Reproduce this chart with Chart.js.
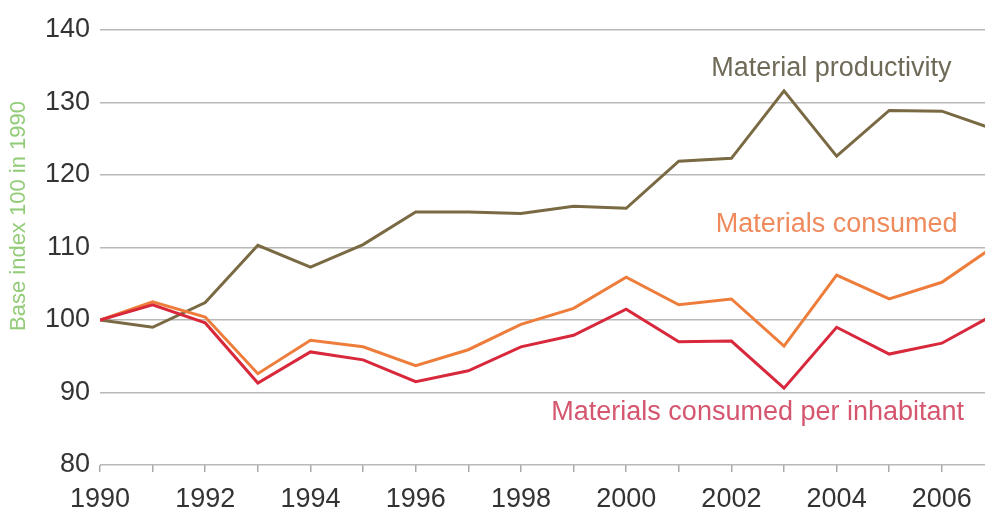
<!DOCTYPE html>
<html>
<head>
<meta charset="utf-8">
<script src="https://cdn.jsdelivr.net/npm/chart.js@4.4.1/dist/chart.umd.min.js"></script>
<style>
  html, body { margin: 0; padding: 0; background: #ffffff; overflow: hidden; }
  #wrap { width: 985px; height: 515px; }
</style>
</head>
<body>
<div id="wrap"><canvas id="c" width="985" height="515"></canvas></div>
<script>
// ---- data ----
const years = [1990,1991,1992,1993,1994,1995,1996,1997,1998,1999,2000,2001,2002,2003,2004,2005,2006,2007];
const materialProductivity = [100, 99.0, 102.4, 110.3, 107.3, 110.4, 114.9, 114.9, 114.7, 115.7, 115.4, 121.9, 122.3, 131.6, 122.6, 128.9, 128.8, 126.3];
const materialsConsumed = [100, 102.5, 100.4, 92.6, 97.2, 96.3, 93.7, 95.9, 99.4, 101.6, 105.9, 102.1, 102.9, 96.4, 106.2, 102.9, 105.2, 110.2];
const consumedPerInhabitant = [100, 102.1, 99.6, 91.3, 95.6, 94.5, 91.5, 93.0, 96.3, 97.9, 101.5, 97.0, 97.1, 90.6, 99.0, 95.3, 96.8, 100.8];
const seriesNames = ["Material productivity", "Materials consumed", "Materials consumed per inhabitant"];
const yTicks = [80, 90, 100, 110, 120, 130, 140];
const yTitle = "Base index 100 in 1990";

const FONT = "'Liberation Sans', Arial, sans-serif";
const colors = { prod: '#7a6a43', cons: '#ee7d3b', inh: '#d8283c' };

const toPts = arr => arr.map((v, i) => ({ x: years[i], y: v }));

// Series name labels placed in data coordinates
const seriesLabels = [
  { text: seriesNames[0], x: 2003.9, y: 134.7, color: '#6f6a58' },
  { text: seriesNames[1], x: 2004.0, y: 113.1, color: '#ef8a5c' },
  { text: seriesNames[2], x: 2002.5, y: 87.2,  color: '#d4566f' }
];

const labelPlugin = {
  id: 'seriesLabels',
  afterDatasetsDraw(chart) {
    const { ctx, scales, chartArea } = chart;
    ctx.save();
    ctx.font = '27px ' + FONT;
    ctx.textAlign = 'center';
    ctx.textBaseline = 'middle';
    seriesLabels.forEach(l => {
      ctx.fillStyle = l.color;
      ctx.fillText(l.text, scales.x.getPixelForValue(l.x), scales.y.getPixelForValue(l.y));
    });
    // rotated y-axis title
    ctx.font = '22px ' + FONT;
    ctx.fillStyle = '#93cc78';
    ctx.translate(chartArea.left - 81, chartArea.top + 186);
    ctx.rotate(-Math.PI / 2);
    ctx.fillText(yTitle, 0, 0);
    ctx.restore();
  }
};

new Chart(document.getElementById('c'), {
  type: 'line',
  data: {
    datasets: [
      { label: seriesNames[2], data: toPts(consumedPerInhabitant), borderColor: colors.inh, borderWidth: 3, pointRadius: 0, tension: 0 },
      { label: seriesNames[1], data: toPts(materialsConsumed), borderColor: colors.cons, borderWidth: 3, pointRadius: 0, tension: 0 },
      { label: seriesNames[0], data: toPts(materialProductivity), borderColor: colors.prod, borderWidth: 3, pointRadius: 0, tension: 0 }
    ]
  },
  options: {
    responsive: false,
    animation: false,
    layout: { padding: { top: 30, right: 0, left: 0, bottom: 0 } },
    plugins: { legend: { display: false }, tooltip: { enabled: false } },
    scales: {
      x: {
        type: 'linear',
        min: 1990,
        max: 2006.82,
        afterFit(axis) { axis.height = 50; },
        ticks: {
          stepSize: 1,
          autoSkip: false,
          maxRotation: 0,
          includeBounds: false,
          padding: 11,
          color: '#333333',
          font: { family: FONT, size: 27 },
          callback: v => (v % 2 === 0 ? String(v) : '')
        },
        grid: { drawOnChartArea: false, drawTicks: true, tickLength: 7, color: '#aaaaaa', lineWidth: 1.5 },
        border: { display: false }
      },
      y: {
        min: yTicks[0],
        max: yTicks[yTicks.length - 1],
        afterFit(axis) { axis.width = 100; },
        afterBuildTicks(axis) { axis.ticks = yTicks.map(v => ({ value: v })); },
        ticks: {
          padding: 10,
          color: '#333333',
          font: { family: FONT, size: 27 }
        },
        grid: { drawTicks: false, color: '#b8b8b8', lineWidth: 1.5 },
        border: { display: false },
        title: { display: false }
      }
    }
  },
  plugins: [labelPlugin]
});
</script>
</body>
</html>
